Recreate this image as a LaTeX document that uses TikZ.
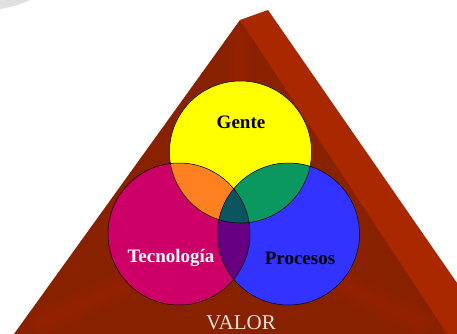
\documentclass[tikz,border=0pt]{standalone}
\usepackage{fontspec}
\setmainfont{Liberation Serif}
\usetikzlibrary{calc}

\definecolor{frontred}{RGB}{136,33,0}
\definecolor{glowred}{RGB}{160,38,0}
\definecolor{sidered}{RGB}{170,40,0}
\definecolor{gyellow}{RGB}{255,255,0}
\definecolor{tmagenta}{RGB}{204,0,102}
\definecolor{pblue}{RGB}{51,51,255}
\definecolor{gtorange}{RGB}{255,128,32}
\definecolor{gpgreen}{RGB}{10,152,96}
\definecolor{tppurple}{RGB}{102,0,128}
\definecolor{allteal}{RGB}{10,85,96}
\definecolor{valorwhite}{RGB}{240,226,220}

\begin{document}
\begin{tikzpicture}[x=1pt,y=-1pt,
  label/.style={font=\fontsize{19}{20}\selectfont\bfseries,inner sep=0pt},
  ring/.style={draw=black,line width=0.5pt}]
\useasboundingbox (0,0) rectangle (457,334);
\clip (0,0) rectangle (457,334);

% grey smudge in the corner
\fill[black!12] (0,0) -- (30,0) .. controls (22,4) and (12,7) .. (0,9) -- cycle;

\coordinate (apex) at (240,20);
\coordinate (back) at (268,10);
\coordinate (bl) at (14,334);
\coordinate (br) at (447,334);
\coordinate (mid) at (236,236);

% pyramid: side face, then front face
\fill[sidered] (apex) -- (back) -- (500,345) -- (440,345) -- cycle;
\fill[frontred] (apex) -- (bl) -- (br) -- cycle;

% soft bevel streaks on the front face
\begin{scope}
  \clip (apex) -- (bl) -- (br) -- cycle;
  \foreach \w in {26,18,10}
    \draw[glowred,line width=\w pt,opacity=0.18,line cap=round]
      ($(apex)!0.08!(mid)$) -- (mid) ($(bl)!0.12!(mid)$) -- (mid)
      ($(br)!0.12!(mid)$) -- (mid);
\end{scope}

\coordinate (g) at (240.5,152);
\coordinate (t) at (179,234);
\coordinate (p) at (288.5,234);

% the three circles
\fill[gyellow] (g) circle[radius=71pt];
\fill[tmagenta] (t) circle[radius=71pt];
\fill[pblue] (p) circle[radius=71pt];

% overlaps
\begin{scope}
  \clip (g) circle[radius=71pt];
  \fill[gtorange] (t) circle[radius=71pt];
  \fill[gpgreen] (p) circle[radius=71pt];
\end{scope}
\begin{scope}
  \clip (t) circle[radius=71pt];
  \fill[tppurple] (p) circle[radius=71pt];
  \clip (p) circle[radius=71pt];
  \fill[allteal] (g) circle[radius=71pt];
\end{scope}

\foreach \c in {g,t,p}
  \draw[ring] (\c) circle[radius=71pt];

\node[label] (gente) at (241,122) {Gente};
\node[label,text=white] (tecnologia) at (171,258) {Tecnología};
\node[label] (procesos) at (300,258) {Procesos};
\node[font=\fontsize{21}{22}\selectfont,text=valorwhite,inner sep=0pt] (valor) at (241,323) {VALOR};
\end{tikzpicture}
\end{document}
